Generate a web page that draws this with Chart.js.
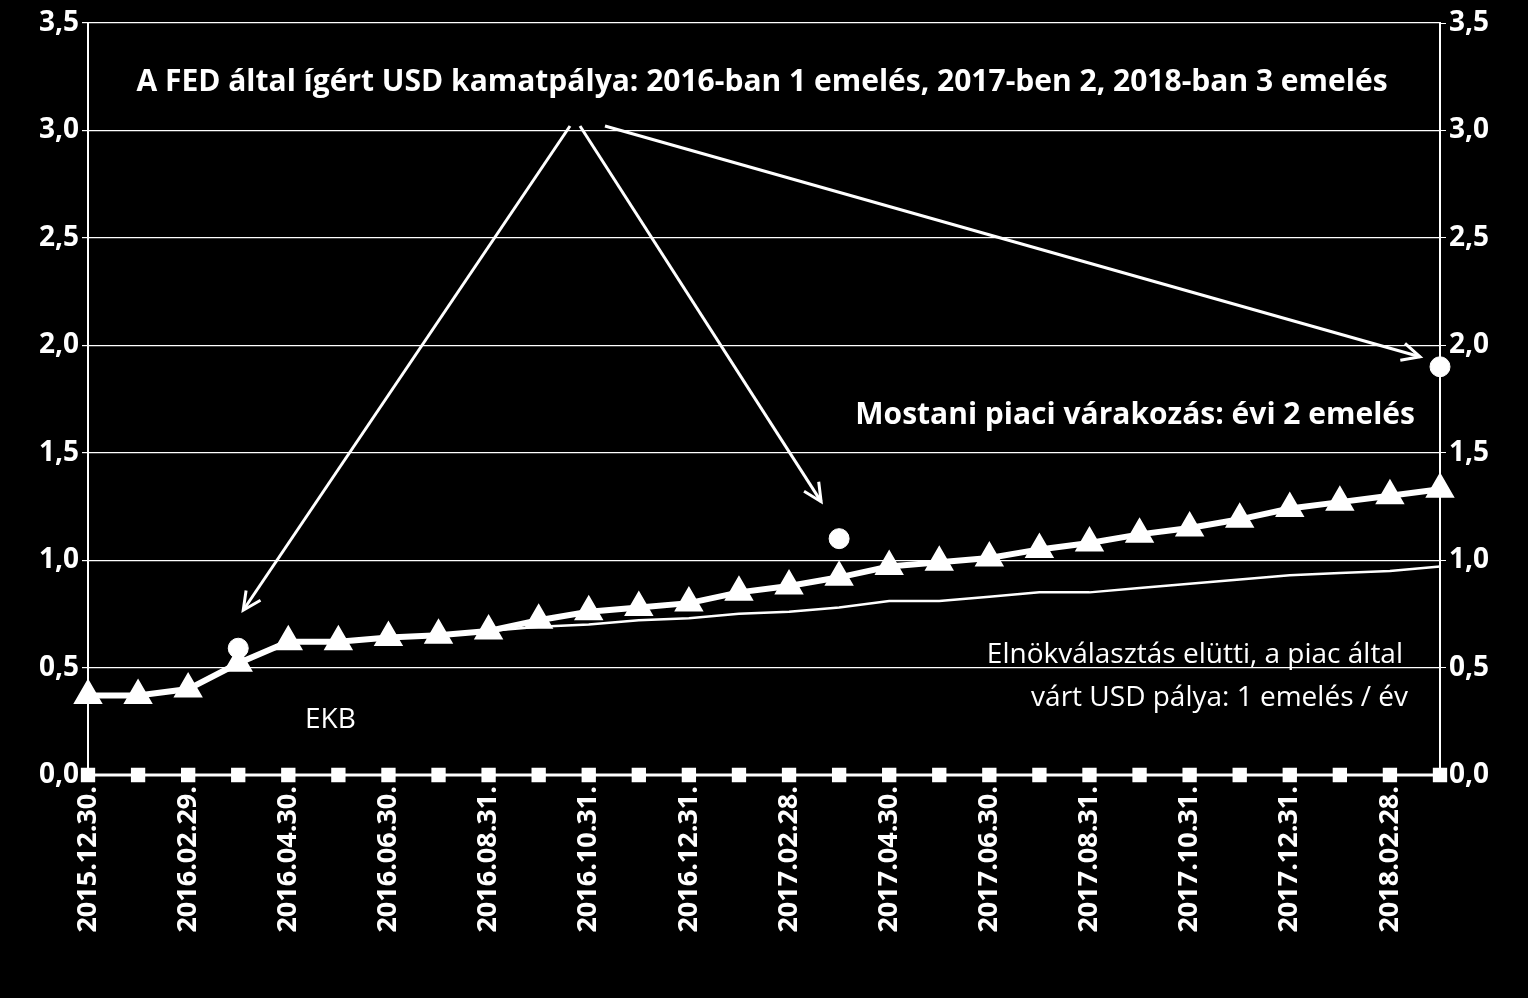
<!DOCTYPE html>
<html>
<head>
<meta charset="utf-8">
<script src="https://cdn.jsdelivr.net/npm/chart.js@4"></script>
<style>
  html, body { margin: 0; background: #000; }
  #wrap { width: 1528px; height: 998px; }
</style>
</head>
<body>
<div id="wrap"><canvas id="c"></canvas></div>
<script>
// Adatok
const labels = [
  "2015.12.30.", "2016.01.31.", "2016.02.29.", "2016.03.31.", "2016.04.30.", "2016.05.31.",
  "2016.06.30.", "2016.07.31.", "2016.08.31.", "2016.09.30.", "2016.10.31.", "2016.11.30.",
  "2016.12.31.", "2017.01.31.", "2017.02.28.", "2017.03.31.", "2017.04.30.", "2017.05.31.",
  "2017.06.30.", "2017.07.31.", "2017.08.31.", "2017.09.30.", "2017.10.31.", "2017.11.30.",
  "2017.12.31.", "2018.01.31.", "2018.02.28.", "2018.03.31."
];
const piaciVarakozas = [0.37, 0.37, 0.40, 0.52, 0.62, 0.62, 0.64, 0.65, 0.67, 0.72, 0.76, 0.78,
  0.80, 0.85, 0.88, 0.92, 0.97, 0.99, 1.01, 1.05, 1.08, 1.12, 1.15, 1.19, 1.24, 1.27, 1.30, 1.33];
const elnokvalasztasElotti = [0.37, 0.37, 0.40, 0.52, 0.62, 0.62, 0.64, 0.65, 0.67, 0.69, 0.70, 0.72,
  0.73, 0.75, 0.76, 0.78, 0.81, 0.81, 0.83, 0.85, 0.85, 0.87, 0.89, 0.91, 0.93, 0.94, 0.95, 0.97];
const ekb = labels.map(() => 0);
const fedPalya = labels.map(() => null);
fedPalya[3] = 0.59; fedPalya[15] = 1.10; fedPalya[27] = 1.90;

const FONT = "'Open Sans', 'Liberation Sans', sans-serif";

// Szövegek és nyilak
const annotations = {
  id: "annotations",
  afterDatasetsDraw(chart) {
    const { ctx, scales: { x, y } } = chart;
    ctx.save();
    ctx.fillStyle = "#fff";
    ctx.strokeStyle = "#fff";
    ctx.textBaseline = "middle";

    ctx.font = "bold 30px " + FONT;
    ctx.textAlign = "center";
    ctx.fillText("A FED által ígért USD kamatpálya: 2016-ban 1 emelés, 2017-ben 2, 2018-ban 3 emelés", 762, 82);
    ctx.textAlign = "right";
    ctx.fillText("Mostani piaci várakozás: évi 2 emelés", 1415, 415);
    ctx.font = "28px " + FONT;
    ctx.fillText("Elnökválasztás elütti, a piac által", 1403, 655);
    ctx.fillText("várt USD pálya: 1 emelés / év", 1408, 698);
    ctx.textAlign = "left";
    ctx.fillText("EKB", 305, 720);

    const arrow = (x0, y0, x1, y1) => {
      ctx.lineWidth = 3;
      ctx.beginPath(); ctx.moveTo(x0, y0); ctx.lineTo(x1, y1); ctx.stroke();
      const a = Math.atan2(y1 - y0, x1 - x0), L = 20, w = 0.45;
      ctx.beginPath();
      ctx.moveTo(x1 - L * Math.cos(a - w), y1 - L * Math.sin(a - w));
      ctx.lineTo(x1, y1);
      ctx.lineTo(x1 - L * Math.cos(a + w), y1 - L * Math.sin(a + w));
      ctx.stroke();
    };
    arrow(570, 126, x.getPixelForValue(3) + 5, y.getPixelForValue(0.59) - 38);
    arrow(580, 126, x.getPixelForValue(15) - 18, y.getPixelForValue(1.10) - 37);
    arrow(605, 126, x.getPixelForValue(27) - 20, y.getPixelForValue(1.90) - 10);
    ctx.restore();
  }
};

const fixWidth = (w) => (s) => { s.width = w; };

new Chart(document.getElementById("c"), {
  type: "line",
  data: {
    labels,
    datasets: [
      { label: "EKB", data: ekb, borderColor: "#fff", backgroundColor: "#fff", borderWidth: 3,
        pointStyle: "rect", pointRadius: 8, clip: false, yAxisID: "y" },
      { label: "Elnökválasztás előtti", data: elnokvalasztasElotti, borderColor: "#fff", borderWidth: 2.5,
        pointRadius: 0, yAxisID: "y" },
      { label: "Piaci várakozás", data: piaciVarakozas, borderColor: "#fff", backgroundColor: "#fff",
        borderWidth: 6, pointStyle: "triangle", pointRadius: 11, clip: false, yAxisID: "y" },
      { label: "FED", data: fedPalya, showLine: false, backgroundColor: "#fff", borderColor: "#fff",
        pointRadius: 10, clip: false, yAxisID: "y" }
    ]
  },
  options: {
    responsive: true,
    maintainAspectRatio: false,
    animation: false,
    layout: { padding: { top: 23, right: 0, left: 0, bottom: 0 } },
    plugins: { legend: { display: false }, tooltip: { enabled: false } },
    scales: {
      x: {
        offset: false,
        grid: { display: false, drawTicks: true, color: "#fff", tickLength: 8 },
        border: { color: "#fff", width: 2 },
        afterFit: (s) => { s.height = 223; },
        ticks: {
          color: "#fff", font: { family: FONT, size: 27, weight: "bold" },
          maxRotation: 90, minRotation: 90, autoSkip: false,
          callback: (v, i) => (i % 2 === 0 ? labels[i] : "")
        }
      },
      y: {
        position: "left", min: 0, max: 3.5,
        afterFit: fixWidth(88),
        grid: { color: "#fff", lineWidth: 1.2, tickLength: 6 },
        border: { color: "#fff", width: 2 },
        ticks: { stepSize: 0.5, color: "#fff", font: { family: FONT, size: 28, weight: "bold" },
          callback: (v) => v.toFixed(1).replace(".", ",") }
      },
      y2: {
        position: "right", min: 0, max: 3.5,
        afterFit: fixWidth(88),
        grid: { drawOnChartArea: false, color: "#fff", tickLength: 6 },
        border: { color: "#fff", width: 2 },
        ticks: { stepSize: 0.5, color: "#fff", font: { family: FONT, size: 28, weight: "bold" },
          callback: (v) => v.toFixed(1).replace(".", ",") }
      }
    }
  },
  plugins: [annotations]
});
</script>
</body>
</html>
